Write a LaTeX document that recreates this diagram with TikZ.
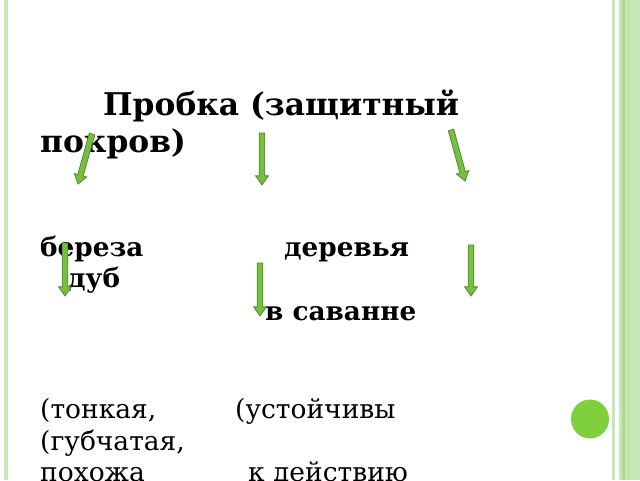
\documentclass[tikz,border=0pt]{standalone}
\usepackage{fontspec}
\setmainfont{DejaVu Serif}
\usetikzlibrary{shapes.arrows}
\definecolor{bandgreen}{HTML}{C8E7B8}
\definecolor{stripegreen}{HTML}{A9DC86}
\definecolor{arrowfill}{HTML}{78BE40}
\definecolor{arrowline}{HTML}{4F8F2B}
\definecolor{dotgreen}{HTML}{7FD03C}
\tikzset{
  garrow/.style={shape=single arrow, fill=arrowfill, draw=arrowline, line width=0.8pt,
    inner sep=2.4pt, single arrow head extend=3.6pt, single arrow tip angle=70,
    single arrow head indent=0pt, anchor=tail, outer sep=0pt},
  boldtxt/.style={anchor=base west, inner sep=0pt, font=\fontsize{26.3}{32}\selectfont\bfseries},
  titletxt/.style={anchor=base west, inner sep=0pt, font=\fontsize{31.3}{36}\selectfont\bfseries},
  plaintxt/.style={anchor=base west, inner sep=0pt, font=\fontsize{26.5}{32}\selectfont},
}
\begin{document}
\begin{tikzpicture}[x=1pt,y=-1pt]
\useasboundingbox (0,0) rectangle (640,480);
\fill[white] (0,0) rectangle (640,480);
% frame stripes
\fill[bandgreen] (4,0) rectangle (8,480);
\fill[bandgreen] (612,0) rectangle (615,480);
\fill[bandgreen] (619,0) rectangle (640,480);
\fill[stripegreen] (622,0) rectangle (624.5,480);
\fill[stripegreen!70!bandgreen] (627.5,0) rectangle (628.5,480);
% dot
\fill[dotgreen] (590,419) ellipse [x radius=19, y radius=19.5];
% texts
\node[titletxt] (t1) at (103,115) {Пробка (защитный};
\node[titletxt] (t2) at (40,152) {покров)};
\node[boldtxt] (b1) at (40,256) {береза};
\node[boldtxt] (b2) at (284,256) {деревья};
\node[boldtxt] (b3) at (68,287) {дуб};
\node[boldtxt] (b4) at (265,320) {в саванне};
\node[plaintxt] (p1) at (40,418) {(тонкая,};
\node[plaintxt] (p2) at (235,418) {(устойчивы};
\node[plaintxt] (p3) at (40,450) {(губчатая,};
\node[plaintxt] (p4) at (40,481) {похожа};
\node[plaintxt] (p5) at (248,481) {к действию};
% arrows
\node[garrow, minimum height=52, rotate=-105.6] (a1) at (92,134) {};
\node[garrow, minimum height=52, rotate=-90] (a2) at (262,133) {};
\node[garrow, minimum height=53, rotate=-74.6] (a3) at (451,130) {};
\node[garrow, minimum height=53, rotate=-90] (a4) at (65,243) {};
\node[garrow, minimum height=53, rotate=-90] (a5) at (260,263) {};
\node[garrow, minimum height=51, rotate=-90] (a6) at (471,245) {};
\end{tikzpicture}
\end{document}
